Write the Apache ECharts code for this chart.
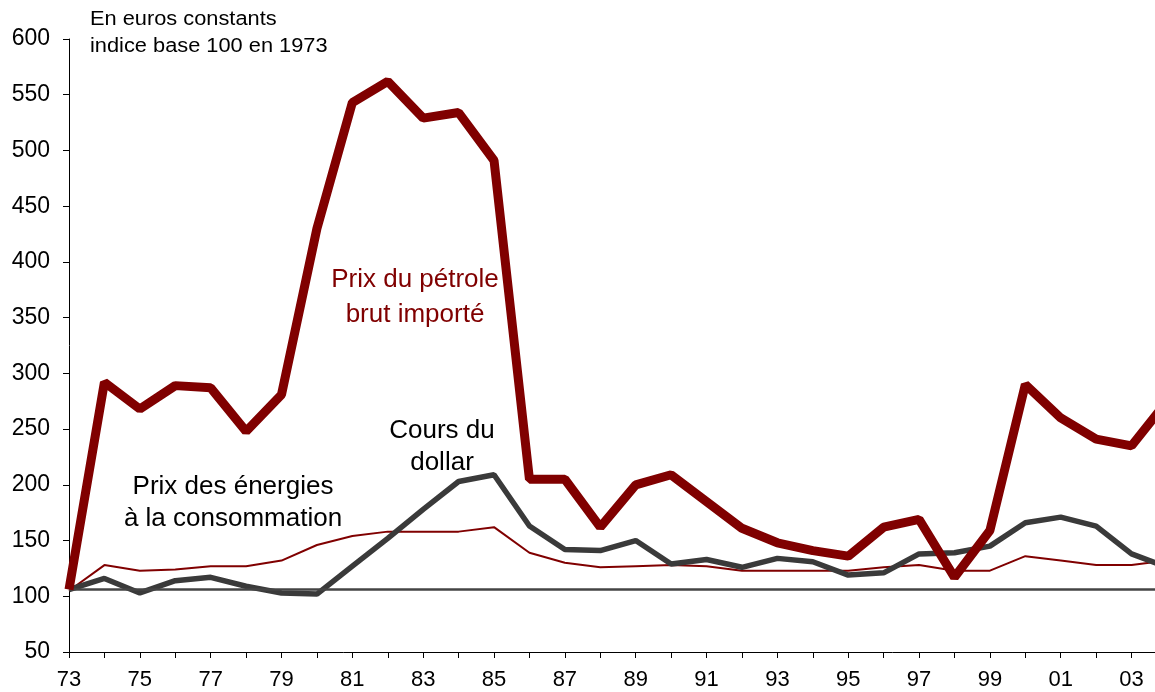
<!DOCTYPE html>
<html>
<head>
<meta charset="utf-8">
<script src="https://cdn.jsdelivr.net/npm/echarts@6/dist/echarts.min.js"></script>
<style>
  html, body { margin: 0; padding: 0; background: #fff; overflow: hidden; }
  #chart { width: 1167px; height: 692px; }
</style>
</head>
<body>
<div id="chart"></div>
<script>
var years = ['73', '74', '75', '76', '77', '78', '79', '80', '81', '82', '83', '84', '85', '86', '87', '88',
  '89', '90', '91', '92', '93', '94', '95', '96', '97', '98', '99', '00', '01', '02', '03', '04'];

// prix du pétrole brut importé
var oil = [106, 292, 268, 289, 287, 248, 281, 430, 543, 562, 529, 534, 491, 205, 205, 162,
  200, 209, 185, 161, 148, 141, 136, 162, 169, 117, 159, 290, 260, 241, 235, 275];

// cours du dollar
var dollar = [106, 116, 103, 114, 117, 109, 103, 102, 127, 152, 178, 203, 209, 163, 142, 141,
  150, 129, 133, 126, 134, 131, 119, 121, 138, 139, 145, 166, 171, 163, 138, 126];

// prix des énergies à la consommation
var energy = [105, 128, 123, 124, 127, 127, 132, 146, 154, 158, 158, 158, 162, 139, 130, 126,
  127, 128, 127, 123, 123, 123, 123, 126, 128, 123, 123, 136, 132, 128, 128, 132];

var baseLine = 106.5;

var font = 'Liberation Sans, Arial, sans-serif';

var myChart = echarts.init(document.getElementById('chart'));

var option = {
  animation: false,
  backgroundColor: '#fff',
  grid: { left: 69, right: 0, top: 39, bottom: 40 },
  xAxis: {
    type: 'category',
    data: years,
    boundaryGap: false,
    axisLine: { lineStyle: { color: '#000', width: 1 } },
    axisTick: { interval: 0, length: 6, lineStyle: { color: '#000' } },
    axisLabel: { interval: 1, fontSize: 22, color: '#000', fontFamily: font, margin: 17 },
    splitLine: { show: false }
  },
  yAxis: {
    type: 'value',
    min: 50,
    max: 600,
    interval: 50,
    axisLine: { show: true, lineStyle: { color: '#000', width: 1 } },
    axisTick: { show: true, length: 6, lineStyle: { color: '#000' } },
    axisLabel: { fontSize: 23, color: '#000', fontFamily: font, margin: 19 },
    splitLine: { show: false }
  },
  series: [
    {
      name: 'Prix des énergies à la consommation',
      type: 'line',
      data: energy,
      symbol: 'none',
      lineStyle: { color: '#800000', width: 2 },
      z: 3,
      markLine: {
        silent: true,
        symbol: 'none',
        label: { show: false },
        lineStyle: { color: '#444', width: 2.5, type: 'solid' },
        data: [{ yAxis: baseLine }]
      }
    },
    {
      name: 'Cours du dollar',
      type: 'line',
      data: dollar,
      symbol: 'none',
      lineStyle: { color: '#3a3a3a', width: 5.5 },
      z: 4
    },
    {
      name: 'Prix du pétrole brut importé',
      type: 'line',
      data: oil,
      symbol: 'none',
      lineStyle: { color: '#800000', width: 9 },
      z: 5
    }
  ],
  graphic: [
    {
      type: 'text', x: 90, y: 6, scaleX: 1.09,
      style: { text: 'En euros constants\nindice base 100 en 1973', font: '20px ' + font, fill: '#000', lineHeight: 27 }
    },
    {
      type: 'text', x: 415, y: 262,
      style: { text: 'Prix du pétrole\nbrut importé', font: '26px ' + font, fill: '#800000', align: 'center', lineHeight: 35 }
    },
    {
      type: 'text', x: 442, y: 415,
      style: { text: 'Cours du\ndollar', font: '26px ' + font, fill: '#000', align: 'center', lineHeight: 32 }
    },
    {
      type: 'text', x: 233, y: 471,
      style: { text: 'Prix des énergies\nà la consommation', font: '26px ' + font, fill: '#000', align: 'center', lineHeight: 32 }
    }
  ]
};

myChart.setOption(option);
</script>
</body>
</html>
